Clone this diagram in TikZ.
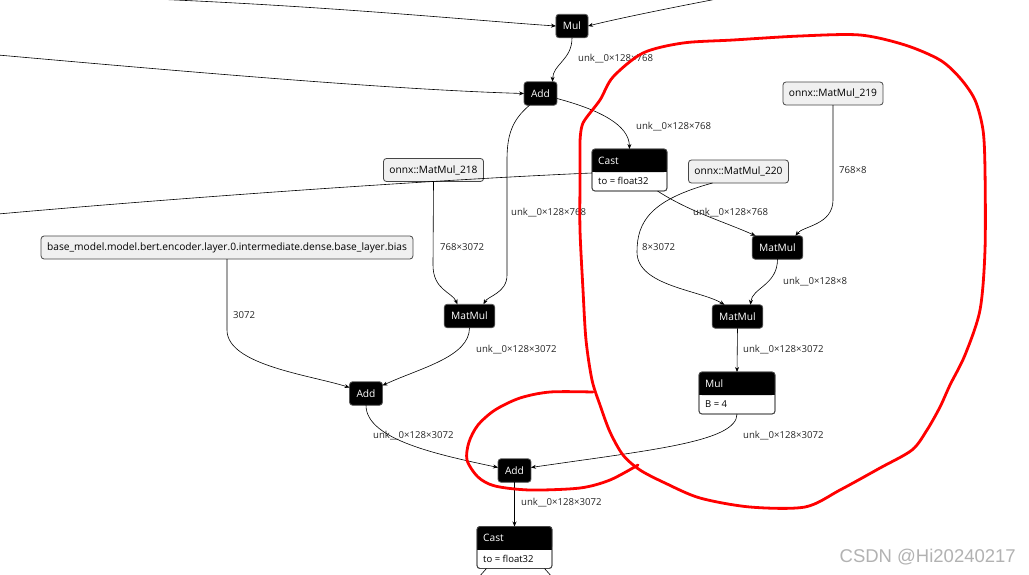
\documentclass[tikz,border=0pt]{standalone}
\usepackage{fontspec}
\setmainfont{Open Sans}
\usetikzlibrary{arrows.meta}
\newfontfamily\wmfont{Liberation Sans}
\tikzset{
  op/.style={fill=black, draw=gray!70!black, line width=0.8pt, rounded corners=3pt, text=white,
    font=\fontsize{10.2}{12}\selectfont, minimum height=23.5pt, inner xsep=7pt, inner ysep=0pt, outer sep=0pt},
  init/.style={fill=gray!12, draw=gray!55!black, line width=0.8pt, rounded corners=3pt, text=black,
    font=\fontsize{10.2}{12}\selectfont, minimum height=23pt, inner xsep=6pt, inner ysep=0pt, outer sep=0pt},
  attrbox/.style={fill=white, draw=gray!55!black, line width=0.8pt, rounded corners=3pt,
    minimum height=42pt, inner sep=0pt, outer sep=0pt},
  edge/.style={draw=black, line width=0.6pt, -{Stealth[length=5pt,width=4pt]}},
  plain/.style={draw=black, line width=0.6pt},
  lbl/.style={anchor=west, font=\fontsize{9.6}{11}\selectfont, inner sep=0pt, text=black!85},
  redmark/.style={draw=red, line width=2.8pt, line join=round, line cap=round},
}
\newcommand{\attrnode}[6]{%
  \node[attrbox, minimum width=#4pt] (#1) at (#2,#3) {};
  \fill[black, rounded corners=3pt] (#1.north west) rectangle ([yshift=-23pt]#1.north east);
  \fill[black] ([yshift=-10pt]#1.north west) rectangle ([yshift=-23pt]#1.north east);
  \draw[draw=gray!55!black, line width=0.8pt, rounded corners=3pt] (#1.north west) rectangle (#1.south east);
  \node[anchor=west, text=white, font=\fontsize{10.2}{12}\selectfont, inner sep=0pt] (#1-t) at ([xshift=6pt,yshift=-11.5pt]#1.north west) {#5};
  \node[anchor=west, font=\fontsize{9.5}{11}\selectfont, inner sep=0pt] (#1-a) at ([xshift=6pt,yshift=-32pt]#1.north west) {#6};
}
\begin{document}
\begin{tikzpicture}[x=1pt,y=-1pt]
\useasboundingbox (0,0) rectangle (1029,574);
\clip (0,0) rectangle (1029,574);
\fill[white] (0,0) rectangle (1029,574);

% nodes
\node[op] (mul) at (572,26) {Mul};
\node[op] (add1) at (540.5,93.5) {Add};
\node[init] (mm218) at (433.5,170) {onnx::MatMul\_218};
\node[init] (mm220) at (738.5,171.5) {onnx::MatMul\_220};
\node[init] (mm219) at (833,93.5) {onnx::MatMul\_219};
\node[init] (bias) at (227,247.5) {base\_model.model.bert.encoder.layer.0.intermediate.dense.base\_layer.bias};
\node[op] (mmL) at (469.5,316) {MatMul};
\node[op] (mmR1) at (777.5,247.5) {MatMul};
\node[op] (mmR2) at (737.5,316.5) {MatMul};
\node[op] (addL) at (366,393.5) {Add};
\node[op] (addB) at (514.5,470.5) {Add};
\attrnode{cast1}{629.5}{170}{75}{Cast}{to = float32}
\attrnode{mulR}{737}{393}{76}{Mul}{B = 4}
\attrnode{castB}{514.5}{547.5}{75}{Cast}{to = float32}

% free ends
\coordinate (inTop) at (140,-1.5);
\coordinate (inTopR) at (722,-2);
\coordinate (inLeft) at (-2,55);
\coordinate (outLeft) at (-2,214);
\coordinate (outB1) at (478,578);
\coordinate (outB2) at (553,578);

% edges
\draw[edge] (inTop) .. controls (330,6) and (480,21) .. (mul.west);
\draw[edge] (inTopR) .. controls (680,6) and (620,18) .. (mul.east);
\draw[edge] (inLeft) .. controls (200,73) and (400,90) .. (add1.west);
\draw[edge] (mul.south) .. controls (572,60) and (553,64) .. ([xshift=12pt]add1.north);
\node[lbl] at (578,59) {unk\_\_0×128×768};
\draw[edge] ([yshift=-5pt]add1.east) .. controls (600,110) and (629,125) .. (cast1.north);
\node[lbl] at (636,127) {unk\_\_0×128×768};
\draw[edge] ([xshift=-11pt]add1.south) .. controls (512,120) and (507,135) .. (507,160) -- (507,275) .. controls (507,293) and (488,296) .. ([xshift=14pt]mmL.north);
\node[lbl] at (511,213) {unk\_\_0×128×768};
\draw[plain] ([yshift=-3pt]cast1.west) .. controls (450,179) and (200,196) .. (outLeft);
\draw[edge] ([xshift=28pt]cast1.south) .. controls (690,212) and (725,222) .. ([xshift=-22pt]mmR1.north);
\node[lbl] at (693,213) {unk\_\_0×128×768};
\draw[edge] (mm219.south) -- (833,200) .. controls (833,225) and (803,226) .. ([xshift=18pt]mmR1.north);
\node[lbl] at (839,170) {768×8};
\draw[edge] ([xshift=-26pt]mm220.south) .. controls (650,200) and (637,222) .. (637,252) .. controls (637,286) and (700,290) .. ([xshift=-13pt]mmR2.north);
\node[lbl] at (642,247) {8×3072};
\draw[edge] (mmR1.south) .. controls (777.5,285) and (752,288) .. ([xshift=13pt]mmR2.north);
\node[lbl] at (783,282) {unk\_\_0×128×8};
\draw[edge] (mmR2.south) -- (mulR.north);
\node[lbl] at (743,350) {unk\_\_0×128×3072};
\draw[edge] (mulR.south) .. controls (737,442) and (650,450) .. ([yshift=3pt]addB.east);
\node[lbl] at (743,436) {unk\_\_0×128×3072};
\draw[edge] (mm218.south) -- (433,265) .. controls (433,290) and (452,292) .. ([xshift=-12pt]mmL.north);
\node[lbl] at (440,247) {768×3072};
\draw[edge] (bias.south) -- (227,330) .. controls (227,365) and (310,375) .. ([yshift=6pt]addL.west);
\node[lbl] at (233,315) {3072};
\draw[edge] (mmL.south) .. controls (469.5,357) and (420,368) .. ([yshift=8pt]addL.east);
\node[lbl] at (476,350) {unk\_\_0×128×3072};
\draw[edge] (addL.south) .. controls (366,440) and (440,455) .. ([yshift=3pt]addB.west);
\node[lbl] at (373,436) {unk\_\_0×128×3072};
\draw[edge] (addB.south) -- (castB.north);
\node[lbl] at (521,503) {unk\_\_0×128×3072};
\draw[plain] ([xshift=-28pt]castB.south) -- (outB1);
\draw[plain] ([xshift=30pt]castB.south) -- (outB2);

% red hand-drawn marks
\draw[redmark] plot[smooth, tension=0.5] coordinates {(580,142) (583,123) (600,100) (613,77) (643,53) (683,43) (733,40) (800,36) (860,35) (905,45) (940,60) (960,78) (975,100) (983,130) (985,170) (985,250) (980,310) (965,355) (950,385) (940,407) (927,430) (912,450) (880,468) (840,490) (805,507) (750,507) (700,498) (665,483) (640,470) (623,455) (610,432) (600,405) (592,380) (586,340) (583,290) (580,230) (580,180) (580,142)};
\draw[redmark] plot[smooth, tension=0.5] coordinates {(593,392) (550,392) (520,398) (495,410) (478,425) (469,442) (467,460) (478,477) (495,486) (530,490) (580,488) (610,480) (638,465)};

% watermark
\node[anchor=east, text=gray!60, font=\wmfont\fontsize{18.5}{20}\selectfont, inner sep=0pt] (wm) at (1016,557) {CSDN @Hi20240217};
\end{tikzpicture}
\end{document}
